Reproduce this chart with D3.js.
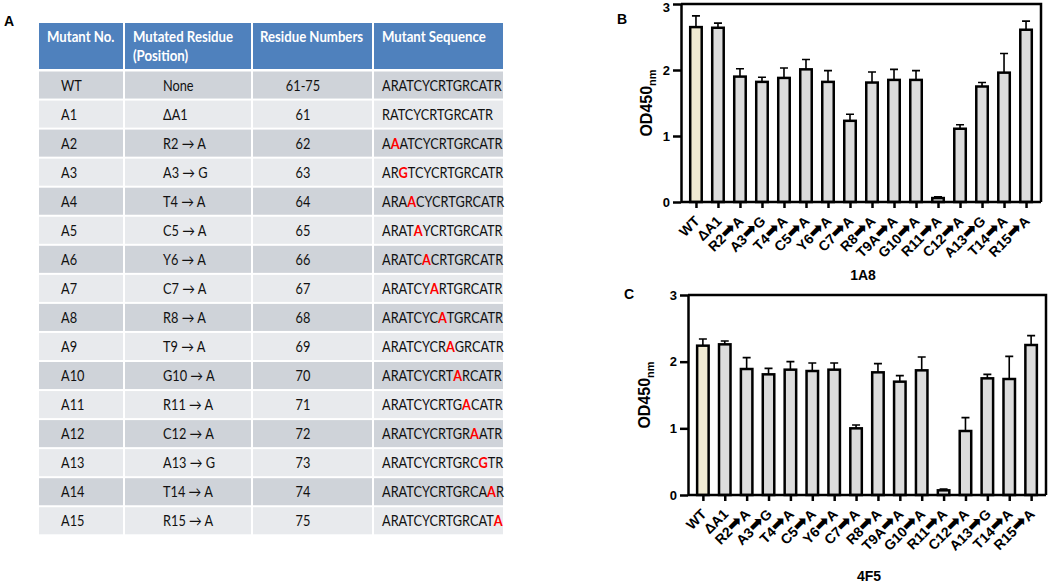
<!DOCTYPE html>
<html>
<head>
<meta charset="utf-8">
<script src="https://cdn.jsdelivr.net/npm/d3@7"></script>
<style>
  body { margin: 0; background: #fff; }
  svg { display: block; }
  .tbl text { font-family: Lato, "Open Sans", sans-serif; font-size: 14.5px; fill: #111; }
  .tbl .head text { fill: #fff; font-weight: bold; font-size: 15px; }
  .chart text { font-family: "Liberation Sans", Arial, "DejaVu Sans", sans-serif; font-weight: bold; fill: #000; }
</style>
</head>
<body>
<svg id="fig" width="1050" height="583"></svg>
<script>
// ---- table (panel A)
const tableHeads = [["Mutant No."], ["Mutated Residue", "(Position)"], ["Residue Numbers"], ["Mutant Sequence"]];
const mutantNo = ["WT", "A1", "A2", "A3", "A4", "A5", "A6", "A7", "A8", "A9", "A10", "A11", "A12", "A13", "A14", "A15"];
const mutatedResidue = ["None", "\u0394A1", "R2 \u2192 A", "A3 \u2192 G", "T4 \u2192 A", "C5 \u2192 A", "Y6 \u2192 A", "C7 \u2192 A",
  "R8 \u2192 A", "T9 \u2192 A", "G10 \u2192 A", "R11 \u2192 A", "C12 \u2192 A", "A13 \u2192 G", "T14 \u2192 A", "R15 \u2192 A"];
const residueNumbers = ["61-75", "61", "62", "63", "64", "65", "66", "67", "68", "69", "70", "71", "72", "73", "74", "75"];
const mutantSeq = ["ARATCYCRTGRCATR", "RATCYCRTGRCATR", "AAATCYCRTGRCATR", "ARGTCYCRTGRCATR", "ARAACYCRTGRCATR",
  "ARATAYCRTGRCATR", "ARATCACRTGRCATR", "ARATCYARTGRCATR", "ARATCYCATGRCATR", "ARATCYCRAGRCATR",
  "ARATCYCRTARCATR", "ARATCYCRTGACATR", "ARATCYCRTGRAATR", "ARATCYCRTGRCGTR", "ARATCYCRTGRCAAR", "ARATCYCRTGRCATA"];
// index of the substituted (red) letter, -1 for none
const mutIndex = [-1, -1, 1, 2, 3, 4, 5, 6, 7, 8, 9, 10, 11, 12, 13, 14];

// ---- bar charts (panels B and C)
const barLabels = ["WT", "\u0394A1", "R2\u27A1A", "A3\u27A1G", "T4\u27A1A", "C5\u27A1A", "Y6\u27A1A", "C7\u27A1A",
  "R8\u27A1A", "T9A\u27A1A", "G10\u27A1A", "R11\u27A1A", "C12\u27A1A", "A13\u27A1G", "T14\u27A1A", "R15\u27A1A"];
const od1A8 = [2.65, 2.64, 1.90, 1.82, 1.88, 2.01, 1.82, 1.23, 1.81, 1.85, 1.85, 0.06, 1.11, 1.75, 1.96, 2.61];
const sd1A8 = [0.17, 0.07, 0.12, 0.07, 0.15, 0.15, 0.17, 0.10, 0.16, 0.16, 0.14, 0.02, 0.06, 0.06, 0.29, 0.13];
const od4F5 = [2.24, 2.26, 1.89, 1.81, 1.88, 1.86, 1.88, 1.00, 1.84, 1.70, 1.87, 0.07, 0.96, 1.75, 1.74, 2.25];
const sd4F5 = [0.10, 0.05, 0.17, 0.09, 0.12, 0.12, 0.10, 0.05, 0.13, 0.09, 0.20, 0.02, 0.20, 0.06, 0.34, 0.14];
const yTicks = [0, 1, 2, 3];

const svg = d3.select("#fig");

// panel A
svg.append("text").attr("x", 4).attr("y", 26)
  .style("font-family", "Liberation Sans, Arial, sans-serif").style("font-weight", "bold").style("font-size", "14px")
  .text("A");

const colEdges = [39, 124, 252, 373, 504];
const headTop = 23, headH = 46;
const rowTop = 71.5, rowH = 29.05;
const textX = [61, 163, 303, 382];
const squeeze = " scale(0.88,1)";   // Calibri-like narrow text

const tbl = svg.append("g").attr("class", "tbl");
const head = tbl.append("g").attr("class", "head");
tableHeads.forEach(function (lines, i) {
  head.append("rect")
    .attr("x", colEdges[i] + (i ? 1 : 0))
    .attr("y", headTop)
    .attr("width", colEdges[i + 1] - colEdges[i] - (i ? 2 : 1))
    .attr("height", headH)
    .attr("fill", "#4F81BD");
  lines.forEach(function (l, j) {
    head.append("text")
      .attr("transform", "translate(" + [47, 133, 260, 382][i] + "," + (headTop + 19 + j * 19) + ")" + squeeze)
      .text(l);
  });
});

const rows = tbl.selectAll("g.row")
  .data(mutantNo)
  .enter()
  .append("g")
  .attr("class", "row")
  .attr("transform", function (d, i) { return "translate(0," + (rowTop + i * rowH) + ")"; });

colEdges.slice(0, 4).forEach(function (x, c) {
  rows.append("rect")
    .attr("x", x + (c ? 1 : 0))
    .attr("y", 0)
    .attr("width", colEdges[c + 1] - x - (c ? 2 : 1))
    .attr("height", rowH - 2)
    .attr("fill", function (d, i) { return i % 2 === 0 ? "#CFD3D9" : "#E8EAED"; });
});

function cellPos(c) { return "translate(" + textX[c] + ",19)" + squeeze; }

rows.append("text").attr("transform", cellPos(0)).text(function (d) { return d; });
rows.append("text").attr("transform", cellPos(1)).text(function (d, i) { return mutatedResidue[i]; });
rows.append("text").attr("transform", cellPos(2)).attr("text-anchor", "middle")
  .text(function (d, i) { return residueNumbers[i]; });

rows.append("text").attr("transform", cellPos(3))
  .each(function (d, i) {
    const t = d3.select(this);
    const s = mutantSeq[i], k = mutIndex[i];
    if (k < 0) { t.text(s); return; }
    t.append("tspan").text(s.slice(0, k));
    t.append("tspan").style("fill", "#FF0000").style("font-weight", "bold").text(s[k]);
    t.append("tspan").text(s.slice(k + 1));
  });

// bar chart drawing
function drawBars(values, errs, box, title, panel) {
  const g = svg.append("g").attr("class", "chart");

  const x = d3.scalePoint()
    .domain(barLabels)
    .range([box.left, box.right])
    .padding(0.68);

  const y = d3.scaleLinear()
    .domain([0, 3])
    .range([box.bottom, box.top]);

  const barW = 11.5;

  // frame: top and right lines
  g.append("path")
    .attr("d", "M" + box.left + "," + box.top + "H" + box.right + "V" + box.bottom)
    .attr("fill", "none").attr("stroke", "#000").attr("stroke-width", 2.5);

  // error bars (upper only)
  g.selectAll(".err")
    .data(values)
    .enter()
    .append("path")
    .attr("class", "err")
    .attr("d", function (d, i) {
      const cx = x(barLabels[i]);
      const yt = y(d + errs[i]);
      return "M" + cx + "," + y(d) + "V" + yt + "M" + (cx - 4) + "," + yt + "H" + (cx + 4);
    })
    .attr("fill", "none").attr("stroke", "#000").attr("stroke-width", 1.6);

  g.selectAll(".bar")
    .data(values)
    .enter()
    .append("rect")
    .attr("class", "bar")
    .attr("x", function (d, i) { return x(barLabels[i]) - barW / 2; })
    .attr("width", barW)
    .attr("y", function (d) { return y(d); })
    .attr("height", function (d) { return y(0) - y(d); })
    .attr("fill", function (d, i) { return i === 0 ? "#F0EAD2" : "#DCDCDC"; })
    .attr("stroke", "#000")
    .attr("stroke-width", 2.5);

  // y axis
  const ya = g.append("g")
    .attr("transform", "translate(" + box.left + ",0)")
    .call(d3.axisLeft(y).tickValues(yTicks).tickFormat(d3.format("d")).tickSize(8).tickSizeOuter(0).tickPadding(3));
  ya.selectAll("path, line").attr("stroke", "#000").attr("stroke-width", 2.5);
  ya.selectAll("text").style("font-size", "13px").style("font-family", "Liberation Sans, Arial, sans-serif").style("font-weight", "bold");
  if (box.top < 10) ya.selectAll(".tick").filter(function (d) { return d === 3; }).select("text").attr("dy", "0.6em");

  // x axis
  const xa = g.append("g")
    .attr("transform", "translate(0," + box.bottom + ")")
    .call(d3.axisBottom(x).tickSize(6).tickSizeOuter(0));
  xa.select(".domain").attr("d", "M" + box.left + ",0H" + box.right).attr("stroke", "#000").attr("stroke-width", 2.5);
  xa.selectAll("line").attr("stroke", "#000").attr("stroke-width", 2.5);
  xa.selectAll("text")
    .attr("x", 0).attr("y", 0).attr("dy", 0)
    .attr("text-anchor", "end")
    .attr("transform", "translate(4,20) rotate(-45)")
    .style("font-size", "14px")
    .style("font-family", "Liberation Sans, Arial, sans-serif")
    .style("font-weight", "bold")
    .each(function (d) {
      // big solid arrow between residue and substitute
      const t = d3.select(this);
      const parts = d.split("\u27A1");
      if (parts.length < 2) return;
      t.text(null);
      t.append("tspan").text(parts[0]);
      t.append("tspan").style("font-family", "DejaVu Sans, sans-serif").style("font-size", "18px").text("\u27A1");
      t.append("tspan").text(parts[1]);
    });

  // axis titles
  const yl = g.append("text")
    .attr("transform", "translate(" + box.ylabX + "," + ((box.top + box.bottom) / 2) + ") rotate(-90)")
    .attr("text-anchor", "middle")
    .style("font-size", "16px");
  yl.append("tspan").text("OD450");
  yl.append("tspan").attr("dy", 4).style("font-size", "11px").text("nm");

  g.append("text")
    .attr("x", (box.left + box.right) / 2 + 2)
    .attr("y", box.titleY)
    .attr("text-anchor", "middle")
    .style("font-size", "14px")
    .text(title);

  g.append("text")
    .attr("x", box.panelX)
    .attr("y", box.panelY)
    .style("font-size", "14px")
    .text(panel);
}

drawBars(od1A8, sd1A8, {left: 681, right: 1041, top: 4, bottom: 202, ylabX: 652, titleY: 280, panelX: 617, panelY: 24}, "1A8", "B");
drawBars(od4F5, sd4F5, {left: 688, right: 1046, top: 295, bottom: 495, ylabX: 650, titleY: 581, panelX: 624, panelY: 299}, "4F5", "C");
</script>
</body>
</html>
